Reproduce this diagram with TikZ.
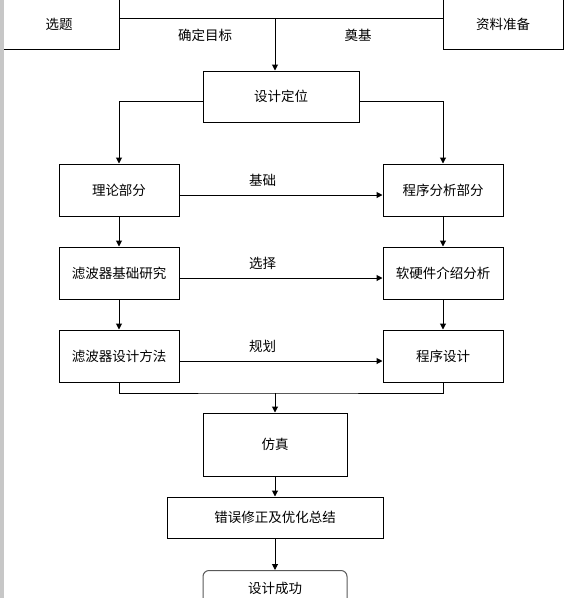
\documentclass[tikz,border=0pt]{standalone}
\usepackage{fontspec}
\newfontfamily\cjk{Noto Sans CJK SC}
\usetikzlibrary{arrows.meta}
\tikzstyle{block} = [draw, inner sep=0pt, font=\cjk\fontsize{13.5}{16}\selectfont]
\tikzstyle{colbox} = [block, minimum width=120pt, minimum height=52pt]
\tikzstyle{tag} = [draw=none, inner sep=0pt, font=\cjk\fontsize{13.5}{16}\selectfont]

\begin{document}
\begin{tikzpicture}[x=1pt,y=-1pt,>={Triangle[length=6pt,width=6pt]},line width=1pt,node distance=83pt]
\useasboundingbox (0,0) rectangle (569,598);

\node[block, minimum width=120pt, minimum height=50pt] (xt) at (59,24) {选题};
\node[block, minimum width=120pt, minimum height=50pt] (zl) at (503,24) {资料准备};
\coordinate (j1) at (275,18);
\node[tag] (mb) at (205,35) {确定目标};
\node[tag] (dj) at (358,35) {奠基};
\node[block, minimum width=156pt, minimum height=51pt] (dw) at (281,96.5) {设计定位};

\node[colbox] (ll) at (119,190) {理论部分};
\node[colbox] (lm) [below of=ll] {滤波器基础研究};
\node[colbox] (lb) [below of=lm] {滤波器设计方法};
\node[colbox] (rl) [right of=ll, node distance=324pt] {程序分析部分};
\node[colbox] (rm) [below of=rl] {软硬件介绍分析};
\node[colbox] (rb) [below of=rm] {程序设计};

\coordinate (j2) at (275,393);
\node[block, minimum width=144pt, minimum height=63pt] (fz) at (275,444.5) {仿真};
\node[block, minimum width=216pt, minimum height=41pt] (cw) at (275,517.5) {错误修正及优化总结};
\node[block, rounded corners=6pt, draw=black!65, minimum width=144pt, minimum height=36pt, anchor=north] (cg) at (275,570) {设计成功};

  \draw (xt.east |- j1) -- (zl.west |- j1);
  \draw[->] (j1) -- (j1 |- dw.north);
  \draw[->] ([yshift=-4.5pt]dw.west) -| (ll);
  \draw[->] ([yshift=-4.5pt]dw.east) -| (rl);

  \draw[->] ([yshift=-5pt]ll.east) -- node[tag, pos=.41, above=8pt] (jc) {基础} ([yshift=-5pt]rl.west);
  \draw[->] ([yshift=-5pt]lm.east) -- node[tag, pos=.41, above=8pt] (xz) {选择} ([yshift=-5pt]rm.west);
  \draw[->] ([yshift=-5pt]lb.east) -- node[tag, pos=.41, above=8pt] (gh) {规划} ([yshift=-5pt]rb.west);

  \draw[->] (ll) -- (lm);
  \draw[->] (lm) -- (lb);
  \draw[->] (rl) -- (rm);
  \draw[->] (rm) -- (rb);

  \draw (lb) |- (j2) -| (rb);
  \draw[->] (j2) -- (fz);
  \draw[->] (fz) -- (cw);
  \draw[->] (cw) -- (cg);

\fill[black!22] (0,0) rectangle (4,598);

\end{tikzpicture}
\end{document}
